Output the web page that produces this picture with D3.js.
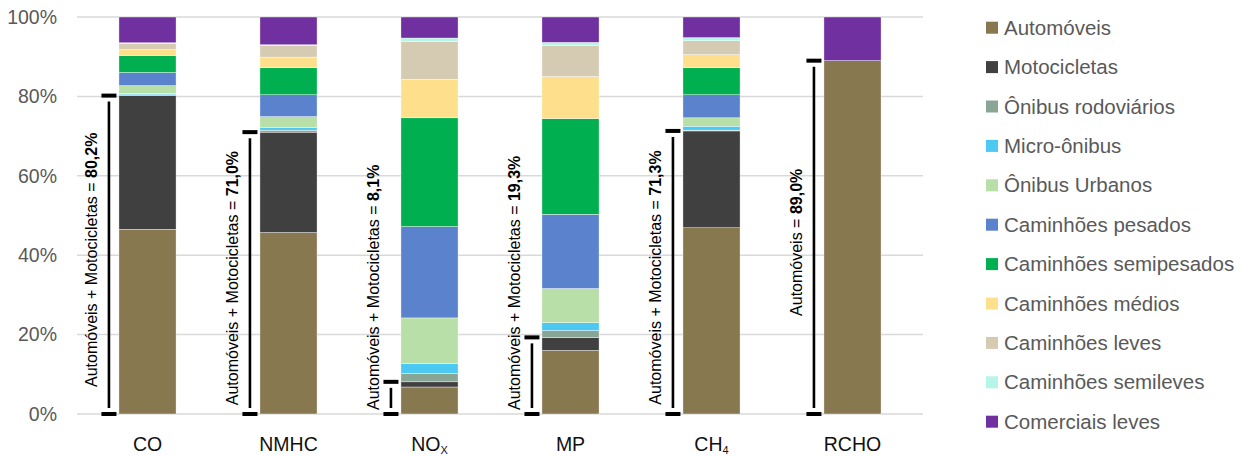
<!DOCTYPE html>
<html>
<head>
<meta charset="utf-8">
<script src="https://cdn.jsdelivr.net/npm/d3@7"></script>
<style>
  body { margin: 0; background: #fff; }
  svg { font-family: "Liberation Sans", Arial, sans-serif; }
</style>
</head>
<body>
<svg id="chart" width="1251" height="457"></svg>
<script>
// categories (poluentes)
const categories = ['CO', 'NMHC', 'NOx', 'MP', 'CH4', 'RCHO']
const catLabels = [['CO', ''], ['NMHC', ''], ['NO', 'X'], ['MP', ''], ['CH', '4'], ['RCHO', '']]

// vehicle categories, bottom to top
const seriesNames = ['Automóveis', 'Motocicletas', 'Ônibus rodoviários', 'Micro-ônibus', 'Ônibus Urbanos',
  'Caminhões pesados', 'Caminhões semipesados', 'Caminhões médios', 'Caminhões leves',
  'Caminhões semileves', 'Comerciais leves']
const seriesColors = ['#887850', '#404040', '#88a595', '#4bc9f3', '#b7dfa7', '#5b83cd',
  '#00b050', '#fee08c', '#d4cbb2', '#b7f5e9', '#7030a0']

// shares (%) per category: CO, NMHC, NOx, MP, CH4, RCHO
const automoveis = [46.5, 45.7, 6.8, 16.0, 46.9, 89.0]
const motocicletas = [33.7, 25.3, 1.3, 3.3, 24.4, 0]
const onibusRodoviarios = [0.2, 0.5, 2.1, 1.7, 0.2, 0]
const microOnibus = [0.3, 0.6, 2.5, 2.0, 1.0, 0]
const onibusUrbanos = [2.0, 2.8, 11.5, 8.6, 2.1, 0]
const caminhoesPesados = [3.3, 5.5, 23.0, 18.7, 5.8, 0]
const caminhoesSemipesados = [4.3, 6.8, 27.4, 24.1, 6.8, 0]
const caminhoesMedios = [1.5, 2.7, 9.7, 10.6, 3.3, 0]
const caminhoesLeves = [1.5, 3.0, 9.5, 7.8, 3.5, 0]
const caminhoesSemileves = [0.2, 0.1, 0.9, 0.8, 0.8, 0]
const comerciaisLeves = [6.5, 7.0, 5.3, 6.4, 5.2, 11.0]

// bracket annotations
const annotPrefix = ['Automóveis + Motocicletas = ', 'Automóveis + Motocicletas = ', 'Automóveis + Motocicletas = ',
  'Automóveis + Motocicletas = ', 'Automóveis + Motocicletas = ', 'Automóveis = ']
const annotValues = [80.2, 71.0, 8.1, 19.3, 71.3, 89.0]

const yTicks = [0, 20, 40, 60, 80, 100]

const allSeries = [automoveis, motocicletas, onibusRodoviarios, microOnibus, onibusUrbanos,
  caminhoesPesados, caminhoesSemipesados, caminhoesMedios, caminhoesLeves, caminhoesSemileves, comerciaisLeves]

// table for d3.stack
const table = categories.map((c, i) => {
  let row = { cat: c }
  seriesNames.forEach((s, j) => { row[s] = allSeries[j][i] })
  return row
})

const plot = { left: 77, right: 923, top: 17, bottom: 414 }

const svg = d3.select('#chart')

const x = d3.scaleBand()
  .domain(categories)
  .range([plot.left, plot.right])
  .padding(0)

const barW = x.bandwidth() * 0.405

const y = d3.scaleLinear()
  .domain([0, 100])
  .range([plot.bottom, plot.top])

// gridlines
svg.append('g')
  .selectAll('line')
  .data(yTicks)
  .enter().append('line')
  .attr('x1', plot.left)
  .attr('x2', plot.right)
  .attr('y1', d => y(d))
  .attr('y2', d => y(d))
  .attr('stroke', '#d9d9d9')
  .attr('stroke-width', 1.5)

// y axis labels
svg.append('g')
  .selectAll('text')
  .data(yTicks)
  .enter().append('text')
  .attr('x', 57)
  .attr('y', d => y(d))
  .attr('dy', '0.35em')
  .attr('text-anchor', 'end')
  .attr('fill', '#595959')
  .attr('font-size', 19.5)
  .text(d => d + '%')

const stacked = d3.stack().keys(seriesNames)(table)

const barX = d => x(d) + (x.bandwidth() - barW) / 2

svg.append('g')
  .selectAll('g')
  .data(stacked)
  .enter().append('g')
  .attr('fill', (d, i) => seriesColors[i])
  .selectAll('rect')
  .data(d => d)
  .enter().append('rect')
  .attr('x', d => barX(d.data.cat))
  .attr('width', barW)
  .attr('y', d => y(d[1]))
  .attr('height', d => y(d[0]) - y(d[1]))
  .attr('stroke', '#fff')
  .attr('stroke-width', 0.4)

// category labels
const cl = svg.append('g')
  .selectAll('text')
  .data(categories)
  .enter().append('text')
  .attr('x', d => x(d) + x.bandwidth() / 2)
  .attr('y', 451)
  .attr('text-anchor', 'middle')
  .attr('font-size', 19.5)
  .attr('fill', '#111')
cl.append('tspan').text((d, i) => catLabels[i][0])
cl.append('tspan')
  .attr('font-size', 11)
  .attr('dy', 3)
  .text((d, i) => catLabels[i][1])

// brackets with labels
const ann = svg.append('g')
  .selectAll('g')
  .data(categories)
  .enter().append('g')

const bx = d => barX(d) - 10

ann.append('rect')
  .attr('x', d => bx(d) - 7.5)
  .attr('y', (d, i) => y(annotValues[i]) - 2)
  .attr('width', 15)
  .attr('height', 4)
  .attr('fill', '#000')
ann.append('rect')
  .attr('x', d => bx(d) - 7.5)
  .attr('y', y(0) - 2)
  .attr('width', 15)
  .attr('height', 4)
  .attr('fill', '#000')
ann.append('line')
  .attr('x1', d => bx(d))
  .attr('x2', d => bx(d))
  .attr('y1', (d, i) => y(annotValues[i]) + 6)
  .attr('y2', y(0) - 6)
  .attr('stroke', '#000')
  .attr('stroke-width', 2.6)

const fmt = v => v.toFixed(1).replace('.', ',') + '%'

ann.each(function (d, i) {
  const g = d3.select(this)
  const t = g.append('text')
    .attr('text-anchor', 'middle')
    .attr('font-size', 16)
    .attr('fill', '#000')
  t.append('tspan').text(annotPrefix[i])
  t.append('tspan').attr('font-weight', 'bold').text(fmt(annotValues[i]))
  const len = t.node().getComputedTextLength()
  const mid = (y(annotValues[i]) + y(0)) / 2 + 5
  const cy = Math.min(mid, 410 - len / 2)
  t.attr('transform', `translate(${bx(d) - 12},${cy}) rotate(-90)`)
})

// legend
const leg = svg.append('g')
  .selectAll('g')
  .data(seriesNames)
  .enter().append('g')
  .attr('transform', (d, i) => `translate(986,${27.7 + i * 39.4})`)
leg.append('rect')
  .attr('x', 0)
  .attr('y', -6)
  .attr('width', 12)
  .attr('height', 12)
  .attr('fill', (d, i) => seriesColors[i])
leg.append('text')
  .attr('x', 18)
  .attr('dy', '0.35em')
  .attr('font-size', 20.5)
  .attr('fill', '#595959')
  .text(d => d)
</script>
</body>
</html>
